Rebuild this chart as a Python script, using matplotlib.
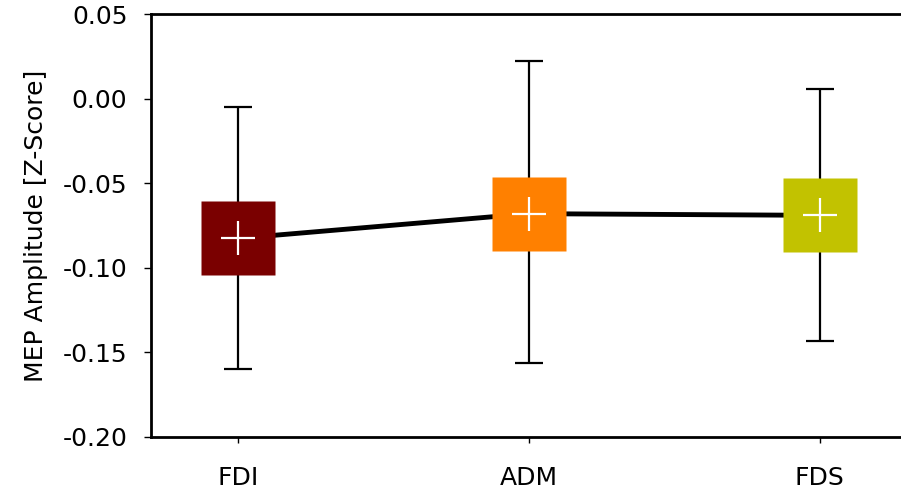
import numpy as np
import matplotlib
matplotlib.use('Agg')
import matplotlib.pyplot as plt

# data
muscles = ['FDI', 'ADM', 'FDS']
means = [-0.0826, -0.0680, -0.0690]
err_hi = [-0.0048, 0.0222, 0.0058]
err_lo = [-0.1600, -0.1565, -0.1430]
colors = ['#7a0000', '#ff8000', '#c2c200']

x = np.arange(len(muscles))
means_a = np.array(means)
yerr = [means_a - np.array(err_lo), np.array(err_hi) - means_a]

fig = plt.figure(figsize=(9.01, 4.96), dpi=100)
ax = fig.add_axes([151 / 901, 59 / 496, 750 / 901, 423 / 496])

# line joining the means
ax.plot(x, means, color='black', lw=3.5, zorder=1, solid_capstyle='butt')

# error bars
ax.errorbar(x, means, yerr=yerr, fmt='none', ecolor='black',
            elinewidth=1.6, capsize=10, capthick=1.6, zorder=2)

# squares with white crosses
for xi, m, c in zip(x, means, colors):
    ax.plot(xi, m, marker='s', ms=53, color=c, mec='none', zorder=3)
    ax.plot(xi, m, marker='+', ms=25, mew=1.6, color='white', zorder=4)

ax.set_xlim(-0.3, 2.28)
ax.set_ylim(-0.20, 0.05)
ax.set_xticks(x)
ax.set_xticklabels(muscles, fontsize=18)
ax.set_yticks([-0.20, -0.15, -0.10, -0.05, 0.00, 0.05])
ax.set_yticklabels(['-0.20', '-0.15', '-0.10', '-0.05', '0.00', '0.05'], fontsize=18)
ax.tick_params(axis='y', length=5, width=1, pad=12)
ax.tick_params(axis='x', length=4, width=1, pad=17)
ax.set_ylabel('MEP Amplitude [Z-Score]', fontsize=18)
ax.yaxis.set_label_coords(-0.137, 0.5)

for side in ['left', 'bottom', 'top']:
    ax.spines[side].set_linewidth(2)
ax.spines['right'].set_visible(False)

fig.savefig('out.png', dpi=100)
